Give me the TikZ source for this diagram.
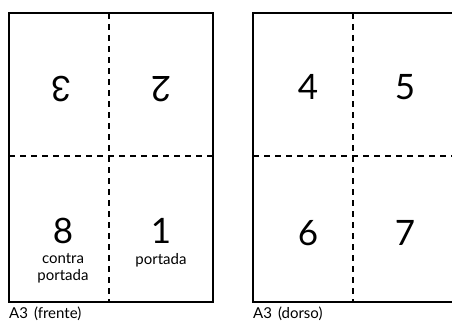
\documentclass[tikz,border=0pt]{standalone}
\usepackage{fontspec}
\setmainfont{Lato}
\usetikzlibrary{positioning,calc}

\tikzset{
    sheet/.style={line width=1.9pt},
    fold/.style={line width=1.9pt, dash pattern=on 6pt off 5pt},
    pagenum/.style={font=\fontsize{35}{35}\selectfont, inner sep=0pt},
    pagelabel/.style={font=\fontsize{15}{17}\selectfont, align=center, inner sep=0pt},
    caption/.style={font=\fontsize{15}{17}\selectfont, anchor=west, inner sep=0pt}
}

\begin{document}
\begin{tikzpicture}[x=1pt, y=-1pt]
    \useasboundingbox (0,0) rectangle (452,321);

    % Front side
    \coordinate (f1) at (9,13);
    \coordinate (f2) at (213,302);
    \draw[fold] (109,13) -- (109,302);
    \draw[fold] (9,156) -- (213,156);
    \draw[sheet] (f1) rectangle (f2);

    \node[pagenum, rotate=180] (p3) at (61,89) {3};
    \node[pagenum, rotate=180] (p2) at (161,89) {2};
    \node[pagenum] (p8) at (63,231) {8};
    \node[pagelabel, below=9pt of p8] (contra) {contra\\portada};
    \node[pagenum] (p1) at (161,231) {1};
    \node[pagelabel, below=9pt of p1] (portada) {portada};

    \node[caption] (frente) at (9,314) {A3\hspace{0.4em}(frente)};

    % Back side
    \coordinate (d1) at (253,13);
    \coordinate (d2) at (457,302);
    \draw[fold] (353,13) -- (353,302);
    \draw[fold] (253,156) -- (457,156);
    \draw[sheet] (d1) rectangle (d2);

    \node[pagenum] (p4) at (308,87) {4};
    \node[pagenum] (p5) at (405,87) {5};
    \node[pagenum] (p6) at (308,233) {6};
    \node[pagenum] (p7) at (405,233) {7};

    \node[caption] (dorso) at (253,314) {A3\hspace{0.4em}(dorso)};
\end{tikzpicture}
\end{document}
